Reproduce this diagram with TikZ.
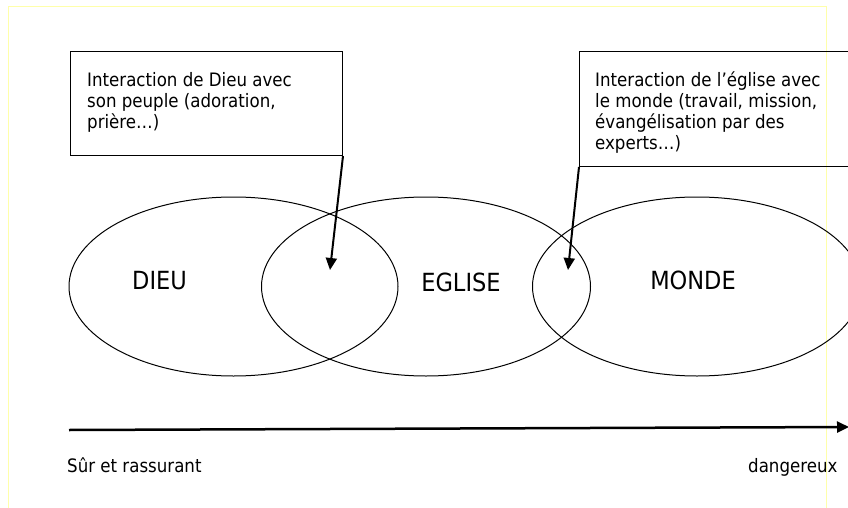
\documentclass[tikz,border=0pt]{standalone}
\usepackage{fontspec}
\setmainfont{DejaVu Sans Condensed}
\usetikzlibrary{shapes.geometric,arrows.meta}
\definecolor{pageborder}{RGB}{255,255,170}
\tikzset{
  infobox/.style={draw=black, line width=1pt, rectangle, inner sep=0pt, anchor=north west},
  infotext/.style={anchor=north west, inner sep=0pt, align=left, font=\fontsize{18.5}{21}\selectfont},
  zone/.style={draw=black, line width=1pt, ellipse, inner sep=0pt, minimum width=329pt, minimum height=179pt},
  zonelabel/.style={inner sep=0pt, anchor=base, font=\fontsize{25}{30}\selectfont},
  axislabel/.style={inner sep=0pt, anchor=base west, font=\fontsize{18.5}{21}\selectfont},
  pointer/.style={line width=2pt, -{Triangle[length=12pt,width=11pt]}},
}
\begin{document}
\begin{tikzpicture}[x=1pt,y=-1pt]
\clip (0,0) rectangle (848,508);
\fill[white] (0,0) rectangle (848,508);
\draw[pageborder, line width=1pt] (8,520) -- (8,7) -- (826,7) -- (826,520);
% ellipses
\node[zone] (dieu) at (233.5,286.5) {};
\node[zone] (eglise) at (426,286.5) {};
\node[zone] (monde) at (697,286.5) {};
\node[zonelabel] (tdieu) at (159.5,289) {DIEU};
\node[zonelabel] (teglise) at (461,291.5) {EGLISE};
\node[zonelabel] (tmonde) at (693,289) {MONDE};
% boxes
\node[infobox, minimum width=272pt, minimum height=104pt] (b1) at (70,51) {};
\node[infotext] (t1) at (87,72) {Interaction de Dieu avec\\son peuple (adoration,\\prière…)};
\node[infobox, minimum width=290pt, minimum height=115pt] (b2) at (579,51) {};
\node[infotext] (t2) at (595,71.3) {Interaction de l’église avec\\le monde (travail, mission,\\évangélisation par des\\experts…)};
% pointers
\coordinate (p1) at (330,270);
\coordinate (p2) at (568,270);
\draw[pointer] (b1.south east) -- (p1);
\draw[pointer] (b2.south west) -- (p2);
% axis
\coordinate (a0) at (69,430);
\coordinate (a1) at (849,427);
\draw[line width=2.5pt, -{Triangle[length=12pt,width=11pt]}] (a0) -- (a1);
\node[axislabel] (l0) at (67,472) {Sûr et rassurant};
\node[axislabel] (l1) at (748,472) {dangereux};
\end{tikzpicture}
\end{document}
